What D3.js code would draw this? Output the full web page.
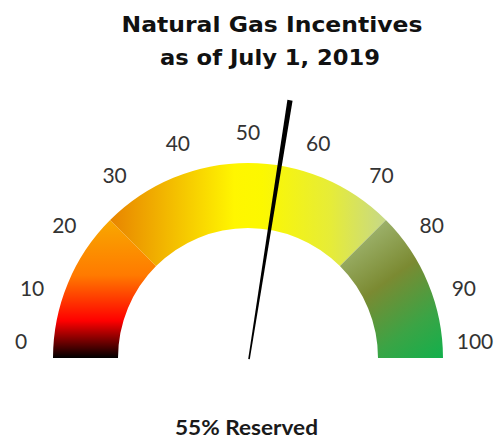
<!DOCTYPE html>
<html><head><meta charset="utf-8">
<script src="https://cdn.jsdelivr.net/npm/d3@7"></script>
<style>body{margin:0;background:#fff}svg{display:block}</style>
</head><body>
<svg id="c" width="498" height="441"></svg>
<script>
const titleLines = ["Natural Gas Incentives", "as of July 1, 2019"];
const tickValues = [0,10,20,30,40,50,60,70,80,90,100];
const bands = [
  {from:0, to:25, name:"low"},
  {from:25, to:75, name:"mid"},
  {from:75, to:100, name:"high"}
];
const needleValue = 55;
const caption = "55% Reserved";

const svg = d3.select("#c");
const cx = 248, cy = 358, rOuter = 195, rInner = 130;
const ang = d3.scaleLinear().domain([0,100]).range([-Math.PI/2, Math.PI/2]);
const defs = svg.append("defs");
const c45 = Math.cos(Math.PI/4);

// gradients (coordinates relative to gauge centre)
const gLow = defs.append("linearGradient").attr("id","g-low").attr("gradientUnits","userSpaceOnUse")
  .attr("x1",0).attr("x2",0).attr("y1",0).attr("y2",-rOuter*c45);
[[0,"#000000"],[0.27,"#ff0000"],[0.6,"#ff7a00"],[1,"#f8a800"]].forEach(s=>gLow.append("stop").attr("offset",s[0]).attr("stop-color",s[1]));
const gMid = defs.append("linearGradient").attr("id","g-mid").attr("gradientUnits","userSpaceOnUse")
  .attr("x1",-rOuter*c45).attr("x2",rOuter*c45).attr("y1",0).attr("y2",0);
[[0,"#e88400"],[0.45,"#fff600"],[0.55,"#fcf800"],[0.8,"#e6ec38"],[1,"#c6d888"]].forEach(s=>gMid.append("stop").attr("offset",s[0]).attr("stop-color",s[1]));
const gHigh = defs.append("linearGradient").attr("id","g-high").attr("gradientUnits","userSpaceOnUse")
  .attr("x1",rInner*0.72).attr("y1",-rOuter*0.72).attr("x2",rOuter).attr("y2",0);
[[0,"#aec688"],[0.45,"#7b8a32"],[0.75,"#3ba445"],[1,"#12b04c"]].forEach(s=>gHigh.append("stop").attr("offset",s[0]).attr("stop-color",s[1]));

const arc = d3.arc().innerRadius(rInner).outerRadius(rOuter);
const g = svg.append("g").attr("transform",`translate(${cx},${cy})`);
g.selectAll("path.band").data(bands).join("path").attr("class","band")
  .attr("d", d => arc({startAngle: ang(d.from), endAngle: ang(d.to)}))
  .attr("fill", d => `url(#g-${d.name})`);

// tick labels
const rLab = 227;
svg.selectAll("text.tick").data(tickValues).join("text").attr("class","tick")
  .attr("x", d => cx + rLab*Math.sin(ang(d)))
  .attr("y", d => Math.min(cy - rLab*Math.cos(ang(d)), cy - 18))
  .attr("text-anchor","middle").attr("dominant-baseline","central")
  .attr("font-family","Lato, 'Open Sans', sans-serif").attr("font-size",21).attr("fill","#333")
  .text(d => d);

// needle
const a = ang(needleValue), len = 262;
const ux = Math.sin(a), uy = -Math.cos(a), px = -uy, py = ux;
const bx = cx + 1, by = cy + 1;
const tx = bx + len*ux, ty = by + len*uy;
const pts = [[bx - px*0.8, by - py*0.8],[bx + px*0.8, by + py*0.8],[tx + px*2.6, ty + py*2.6],[tx - px*2.6, ty - py*2.6]];
svg.append("path").attr("d", d3.line()(pts) + "Z").attr("fill","#000");

// title
const tl = [{t:titleLines[0], x:272, y:32, w:301},{t:titleLines[1], x:270, y:65, w:220}];
svg.selectAll("text.title").data(tl).join("text").attr("class","title")
  .attr("x", d=>d.x).attr("y", d=>d.y).attr("text-anchor","middle")
  .attr("font-family","'DejaVu Sans', sans-serif").attr("font-weight","bold").attr("font-size",22)
  .attr("textLength", d=>d.w).attr("lengthAdjust","spacingAndGlyphs").attr("fill","#111")
  .text(d=>d.t);

svg.append("text").attr("x",246.5).attr("y",435).attr("text-anchor","middle")
  .attr("font-family","Lato, 'Open Sans', sans-serif").attr("font-weight","bold").attr("font-size",21)
  .attr("textLength",143).attr("lengthAdjust","spacingAndGlyphs")
  .attr("fill","#1a1a1a").text(caption);
</script>
</body></html>
